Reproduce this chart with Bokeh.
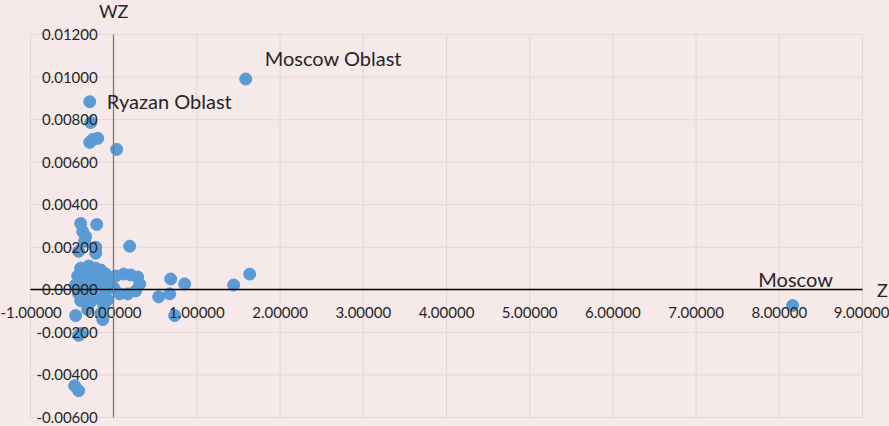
from bokeh.plotting import figure
from bokeh.models import Range1d, FixedTicker, NumeralTickFormatter, Label
from bokeh.embed import file_html
from bokeh.resources import INLINE

# ---- data ----
label_text = ["Moscow Oblast", "Ryazan Oblast", "Moscow"]   # first three points

z = [1.587, -0.288, 8.160,
     -0.276, -0.252, -0.192, -0.288, 0.036,
     -0.397, -0.204, -0.373, -0.337, -0.349, -0.421, -0.216, -0.216, 0.192,
     0.685, 0.853, 0.541, 0.673, 0.733, 1.442, 1.635,
     -0.457, -0.313, -0.132, -0.156, -0.421, -0.397, -0.469, -0.421, -0.120,
     -0.397, -0.300, -0.216, -0.156, -0.433, -0.337, -0.240, -0.096,
     -0.457, -0.361, -0.252, -0.156, -0.060, -0.421, -0.300, -0.204, -0.108,
     -0.397, -0.276, -0.072,
     0.024, 0.120, 0.204, 0.288, 0.313, 0.264, 0.168, 0.072, 0.000, -0.036]

wz = [0.00991, 0.00884, -0.00074,
      0.00786, 0.00707, 0.00712, 0.00693, 0.00660,
      0.00312, 0.00307, 0.00274, 0.00251, 0.00228, 0.00181, 0.00200, 0.00172, 0.00205,
      0.00051, 0.00028, -0.00033, -0.00019, -0.00121, 0.00023, 0.00074,
      -0.00121, -0.00093, -0.00140, -0.00112, -0.00214, -0.00205, -0.00451, -0.00474, -0.00070,
      0.00102, 0.00112, 0.00102, 0.00093, 0.00065, 0.00065, 0.00056, 0.00074,
      0.00023, 0.00019, 0.00009, 0.00028, 0.00037, -0.00019, -0.00023, -0.00037, -0.00019,
      -0.00051, -0.00056, -0.00047,
      0.00065, 0.00074, 0.00070, 0.00060, 0.00028, -0.00005, -0.00019, -0.00019, 0.00009, 0.00047]

x_ticks = [-1, 0, 1, 2, 3, 4, 5, 6, 7, 8, 9]
y_ticks = [-0.006, -0.004, -0.002, 0.0, 0.002, 0.004, 0.006, 0.008, 0.010, 0.012]
x_title = "Z"
y_title = "WZ"

# ---- style / layout ----
BG = "#F5E9E9"
GRID = "#E6D6D6"
BLUE = "#5B9BD5"
TXT = "#262626"
FONT = "Lato"
W, H = 889, 426
PL, PR, PT, PB = 30, 27, 34, 9     # plot-area insets in pixels

x0, x1 = x_ticks[0], x_ticks[-1]
y0, y1 = y_ticks[0], y_ticks[-1]
kx = (x1 - x0) / (W - PL - PR)
ky = (y1 - y0) / (H - PT - PB)

p = figure(width=W, height=H, output_backend="svg", toolbar_location=None,
           title=None,
           x_range=Range1d(x0 - PL * kx, x1 + PR * kx),
           y_range=Range1d(y0 - PB * ky, y1 + PT * ky),
           min_border=0,
           background_fill_color=BG, border_fill_color=BG, outline_line_color=None)

p.xgrid.visible = False
p.ygrid.visible = False

# grid lines inside the plot area only
p.segment(x0=x_ticks, y0=[y0] * len(x_ticks), x1=x_ticks, y1=[y1] * len(x_ticks),
          line_color=GRID, line_width=1)
p.segment(x0=[x0] * len(y_ticks), y0=y_ticks, x1=[x1] * len(y_ticks), y1=y_ticks,
          line_color=GRID, line_width=1)

p.scatter(z, wz, size=12, fill_color=BLUE, line_color=BLUE, line_width=1)

for ax, ticks, col, standoff in ((p.xaxis[0], x_ticks, "#000000", 17),
                                 (p.yaxis[0], y_ticks, "#7F7878", 16)):
    ax.ticker = FixedTicker(ticks=ticks)
    ax.formatter = NumeralTickFormatter(format="0.00000")
    ax.fixed_location = 0
    ax.bounds = (ticks[0], ticks[-1])
    ax.axis_line_color = col
    ax.axis_line_width = 1.3
    ax.major_tick_line_color = None
    ax.minor_tick_line_color = None
    ax.major_tick_out = 0
    ax.major_tick_in = 0
    ax.major_label_standoff = standoff
    ax.major_label_text_font = FONT
    ax.major_label_text_font_size = "15px"
    ax.major_label_text_color = TXT

# axis titles
p.add_layout(Label(x=0, y=y1, text=y_title, text_align="center",
                   text_baseline="middle", y_offset=24, text_font=FONT,
                   text_font_size="18px", text_color=TXT))
p.add_layout(Label(x=x1, y=0, text=x_title, text_align="center",
                   text_baseline="middle", x_offset=20, text_font=FONT,
                   text_font_size="18px", text_color=TXT))

# point labels
offsets = [(19, 21, "left"), (17, 1, "left"), (3, 27, "center")]
for i, name in enumerate(label_text):
    dx, dy, al = offsets[i]
    p.add_layout(Label(x=z[i], y=wz[i], text=name, x_offset=dx, y_offset=dy,
                       text_align=al, text_baseline="middle", text_font=FONT,
                       text_font_size="20px", text_color=TXT))

html = file_html(p, INLINE)
html = html.replace("</head>", "<style>body{background:%s;}</style></head>" % BG)
open("out.html", "w").write(html)
